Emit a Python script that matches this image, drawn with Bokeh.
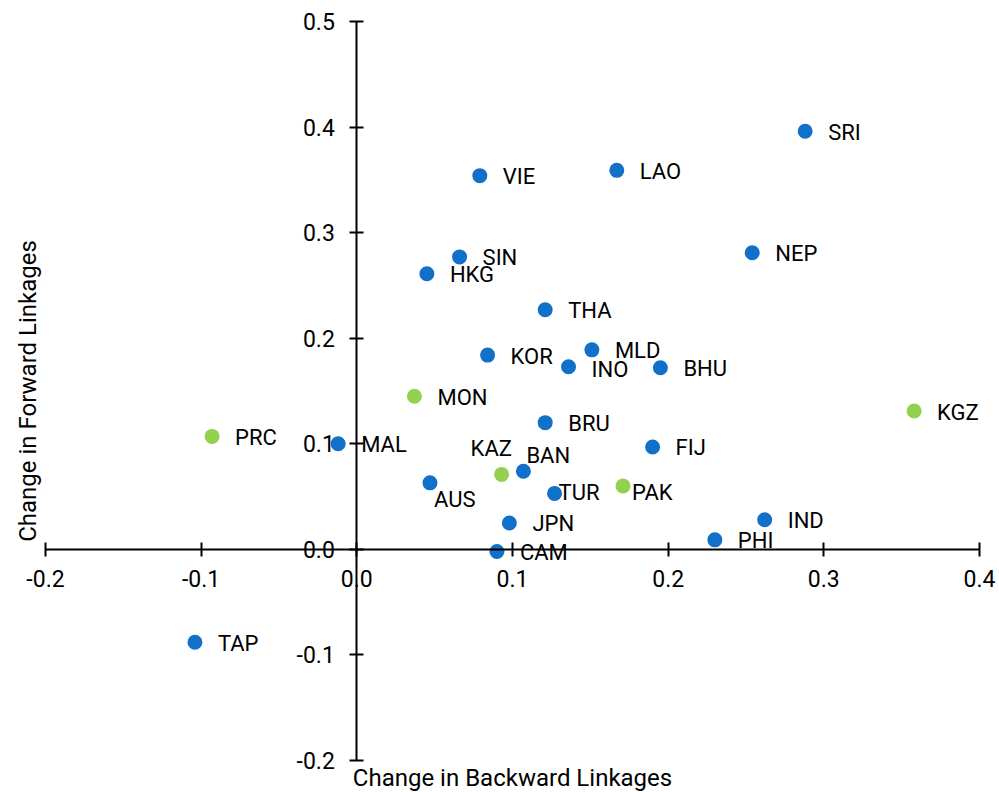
import math
from bokeh.plotting import figure
from bokeh.models import Range1d, LinearAxis, FixedTicker, Label, ColumnDataSource
from bokeh.core.properties import value
from bokeh.embed import file_html
from bokeh.resources import INLINE

# ---- data ----
economies = ["SRI", "LAO", "VIE", "SIN", "HKG", "NEP", "THA", "KOR", "MLD", "INO",
             "BHU", "MON", "BRU", "PRC", "MAL", "KGZ", "FIJ", "KAZ", "BAN", "AUS",
             "TUR", "PAK", "JPN", "IND", "PHI", "CAM", "TAP"]
backward = [0.288, 0.167, 0.079, 0.066, 0.045, 0.254, 0.121, 0.084, 0.151, 0.136,
            0.195, 0.037, 0.121, -0.093, -0.012, 0.358, 0.190, 0.093, 0.107, 0.047,
            0.127, 0.171, 0.098, 0.262, 0.230, 0.090, -0.104]
forward = [0.396, 0.359, 0.354, 0.277, 0.261, 0.281, 0.227, 0.184, 0.189, 0.173,
           0.172, 0.145, 0.120, 0.107, 0.100, 0.131, 0.097, 0.071, 0.074, 0.063,
           0.053, 0.060, 0.025, 0.028, 0.009, -0.002, -0.088]
group = ["blue", "blue", "blue", "blue", "blue", "blue", "blue", "blue", "blue", "blue",
         "blue", "green", "blue", "green", "blue", "green", "blue", "green", "blue", "blue",
         "blue", "green", "blue", "blue", "blue", "blue", "blue"]

x_ticks = [-0.2, -0.1, 0.0, 0.1, 0.2, 0.3, 0.4]
x_tick_labels = ["-0.2", "-0.1", "0.0", "0.1", "0.2", "0.3", "0.4"]
y_ticks = [-0.2, -0.1, 0.0, 0.1, 0.2, 0.3, 0.4, 0.5]
y_tick_labels = ["-0.2", "-0.1", "0.0", "0.1", "0.2", "0.3", "0.4", "0.5"]
x_title = "Change in Backward Linkages"
y_title = "Change in Forward Linkages"

# ---- layout / styling ----
W, H = 999, 792
X_LO, X_HI = -0.2, 0.4           # axis extent
Y_LO, Y_HI = -0.2, 0.5
PX_L, PX_R = 45, 979             # screen px of axis ends
PY_T, PY_B = 21, 760
sx = (PX_R - PX_L) / (X_HI - X_LO)
sy = (PY_B - PY_T) / (Y_HI - Y_LO)
x_range = Range1d(X_LO - PX_L / sx, X_HI + (W - PX_R) / sx)
y_range = Range1d(Y_LO - (H - PY_B) / sy, Y_HI + PY_T / sy)

label_dx = {"KAZ": -31, "BAN": 3, "AUS": 4, "TUR": 4, "PAK": 9}
label_dy = {"KAZ": -26, "BAN": -16, "AUS": 17, "TUR": -1, "PAK": 6, "INO": 3}
palette = {"blue": "#1170C8", "green": "#92D050"}
FONT = "Roboto"

src = ColumnDataSource(dict(
    x=backward, y=forward, name=economies,
    color=[palette[g] for g in group],
    dx=[label_dx.get(e, 23) for e in economies],
    dy=[label_dy.get(e, 1) for e in economies],
))

p = figure(width=W, height=H, output_backend="svg", toolbar_location=None,
           x_range=x_range, y_range=y_range,
           x_axis_location=None, y_axis_location=None,
           min_border=0)
p.outline_line_color = None
p.xgrid.visible = False
p.ygrid.visible = False
p.background_fill_color = "white"
p.border_fill_color = "white"

xa = LinearAxis(fixed_location=0, ticker=FixedTicker(ticks=x_ticks), bounds=(X_LO, X_HI))
xa.major_label_overrides = {t: l for t, l in zip(x_ticks, x_tick_labels)}
ya = LinearAxis(fixed_location=0, ticker=FixedTicker(ticks=y_ticks), bounds=(Y_LO, Y_HI))
ya.major_label_overrides = {t: l for t, l in zip(y_ticks, y_tick_labels)}
for ax in (xa, ya):
    ax.axis_line_color = "black"
    ax.axis_line_width = 2
    ax.major_tick_line_color = "black"
    ax.major_tick_line_width = 2
    ax.major_tick_in = 7
    ax.major_tick_out = 7
    ax.minor_tick_line_color = None
    ax.major_label_text_font = FONT
    ax.major_label_text_font_size = "23px"
    ax.major_label_text_color = "black"
xa.major_label_standoff = 14
ya.major_label_standoff = 15
p.add_layout(xa, "below")
p.add_layout(ya, "left")

p.scatter("x", "y", source=src, size=15, fill_color="color", line_color=None)
p.text("x", "y", text="name", source=src, x_offset="dx", y_offset="dy",
       text_font=value(FONT), text_font_size="22px", text_color="black",
       text_align="left", text_baseline="middle")

p.add_layout(Label(x=(X_LO + X_HI) / 2, y=Y_HI - (777 - PY_T) / sy, text=x_title,
                   text_font=FONT, text_font_size="24px", text_color="black",
                   text_align="center", text_baseline="middle"))
p.add_layout(Label(x=X_LO - (PX_L - 27) / sx, y=(Y_LO + Y_HI) / 2, text=y_title,
                   angle=math.pi / 2, text_font=FONT, text_font_size="24px",
                   text_color="black", text_align="center", text_baseline="middle"))

open("out.html", "w").write(file_html(p, INLINE))
